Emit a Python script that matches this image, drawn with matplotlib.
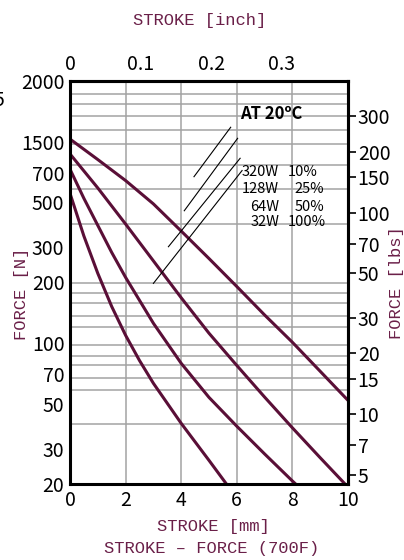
import matplotlib
matplotlib.use("Agg")
import matplotlib.pyplot as plt
from matplotlib import font_manager as fm
from matplotlib.ticker import NullLocator

# ---------------- data ----------------
stroke_a = [0, 1, 2, 3, 4, 5, 6, 7, 8, 9, 10]
force_a = [1030, 815, 641, 491, 360, 263, 191, 138, 101, 72.5, 52]      # 320W 10%
stroke_b = [0, 1, 2, 3, 4, 5, 6, 7, 8, 9, 10]
force_b = [869, 589, 390, 256, 168, 112, 77.5, 54, 38, 27, 19.3]        # 128W 25%
stroke_c = [0, 0.5, 1, 1.5, 2, 3, 4, 5, 6, 7, 8, 8.15]
force_c = [730, 523, 384, 282, 212, 125.5, 79.4, 53.8, 38.7, 28.2, 20.7, 19.8]   # 64W 50%
stroke_d = [0, 0.5, 1, 1.5, 2, 2.5, 3, 4, 5, 5.65]
force_d = [554, 340, 222, 152, 109.4, 82, 63.2, 40, 26.2, 19.8]        # 32W 100%

force_ticks = [20, 30, 50, 70, 100, 200, 300, 500, 700, 1000, 2000]
force_tick_labels = ['20', '30', '50', '70', '100', '200', '300', '500', '700', '1500', '2000']
stroke_ticks = [0, 2, 4, 6, 8, 10]
inch_ticks = [0, 0.1, 0.2, 0.3]
inch_tick_labels = ['0', '0.1', '0.2', '0.3']
lbs_ticks = [300, 200, 150, 100, 70, 50, 30, 20, 15, 10, 7, 5]
grid_force = [1720, 1540, 1340, 1140, 975, 765, 580, 390, 198, 177, 158, 136,
              120, 98, 86, 78, 67.5, 58.5, 39.7]
grid_stroke = [2, 4, 6, 8]

watt_labels = ['320W', '128W', '64W', '32W']
duty_labels = ['10%', '25%', '50%', '100%']
label_force = [709, 582, 472, 398]
leader_x = [(5.78, 4.46), (6.03, 4.11), (6.12, 3.54), (6.19, 3.0)]
leader_y = [(1179, 670), (1039, 454), (827, 301), (719, 198)]

# ---------------- fonts ----------------
names = {f.name for f in fm.fontManager.ttflist}
def pick(*cands):
    for c in cands:
        if c in names:
            return c
    return 'DejaVu Sans'
narrow = pick('Liberation Sans Narrow', 'Noto Sans CJK JP', 'Liberation Sans')
mono = pick('Liberation Mono', 'DejaVu Sans Mono')
tick_font = dict(family=[narrow, 'DejaVu Sans'], size=14)
ann_font = dict(family=[narrow, 'DejaVu Sans'], size=10.5)
title_font = dict(family=[mono, 'DejaVu Sans Mono'], size=12.3)

maroon_txt = '#6a1f48'
maroon_line = '#5a0f37'
grid_col = '#a3a3a3'

W, H = 404, 560
fig = plt.figure(figsize=(W / 100, H / 100), dpi=100)
ax = fig.add_axes([70 / W, 1 - 484 / H, 278 / W, 403 / H])
ax.set_yscale('log')
ax.set_xlim(0, 10)
ax.set_ylim(20, 2000)

for v in grid_force:
    ax.axhline(v, color=grid_col, lw=1.1, zorder=1)
for v in grid_stroke:
    ax.axvline(v, color=grid_col, lw=1.1, zorder=1)

for xs, ys in [(stroke_a, force_a), (stroke_b, force_b), (stroke_c, force_c), (stroke_d, force_d)]:
    ax.plot(xs, ys, color=maroon_line, lw=2.2, zorder=3, solid_capstyle='butt',
            solid_joinstyle='round')

for (x0, x1), (y0, y1) in zip(leader_x, leader_y):
    ax.plot([x0, x1], [y0, y1], color='black', lw=0.8, zorder=4)

ax.text(6.12, 1372, 'AT 20ºC', ha='left', va='center', fontweight='bold',
        family=[narrow, 'DejaVu Sans'], size=12, zorder=5)
pct_x = [7.85, 8.09, 8.07, 7.85]
for w, d, y, px in zip(watt_labels, duty_labels, label_force, pct_x):
    ax.text(7.52, y, w, ha='right', va='center', zorder=5, **ann_font)
    ax.text(px, y, d, ha='left', va='center', zorder=5, **ann_font)

# axes styling
for s in ax.spines.values():
    s.set_linewidth(2.2)
    s.set_zorder(6)
ax.set_yticks(force_ticks)
ax.set_yticklabels(force_tick_labels, **tick_font)
ax.yaxis.set_minor_locator(NullLocator())
ax.set_xticks(stroke_ticks)
ax.set_xticklabels([str(t) for t in stroke_ticks], **tick_font)
ax.tick_params(axis='y', length=0, pad=4)
ax.tick_params(axis='x', length=0, pad=4)

# top inch axis
sx = ax.secondary_xaxis('top', functions=(lambda mm: mm / 25.4, lambda inch: inch * 25.4))
sx.set_xticks(inch_ticks)
sx.set_xticklabels(inch_tick_labels, **tick_font)
sx.set_xticks([0.2, 0.3], minor=True)
sx.tick_params(which='major', length=0, pad=4)
sx.tick_params(which='minor', length=5, width=1.5, direction='out')
sx.spines['top'].set_linewidth(2.2)

# right lbs axis
sy = ax.secondary_yaxis('right', functions=(lambda n: n / 4.448, lambda l: l * 4.448))
sy.set_yticks(lbs_ticks)
sy.set_yticklabels([str(t) for t in lbs_ticks], **tick_font)
sy.yaxis.set_minor_locator(NullLocator())
sy.tick_params(which='major', length=6, width=1.2, pad=1, direction='out')
sy.spines['right'].set_linewidth(2.2)

# titles
fig.text(200 / W, 1 - 20 / H, 'STROKE [inch]', ha='center', va='center', color=maroon_txt, **title_font)
fig.text(213 / W, 1 - 526 / H, 'STROKE [mm]', ha='center', va='center', color=maroon_txt, **title_font)
fig.text(212 / W, 1 - 548 / H, 'STROKE – FORCE (700F)', ha='center', va='center', color=maroon_txt, **title_font)
fig.text(22 / W, 1 - 294 / H, 'FORCE [N]', ha='center', va='center', rotation=90, color=maroon_txt, **title_font)
fig.text(397 / W, 1 - 283 / H, 'FORCE [lbs]', ha='center', va='center', rotation=90, color=maroon_txt, **title_font)
fig.text(-6 / W, 1 - 101 / H, '5', ha='left', va='center', **tick_font)

fig.savefig('out.png', dpi=100)
